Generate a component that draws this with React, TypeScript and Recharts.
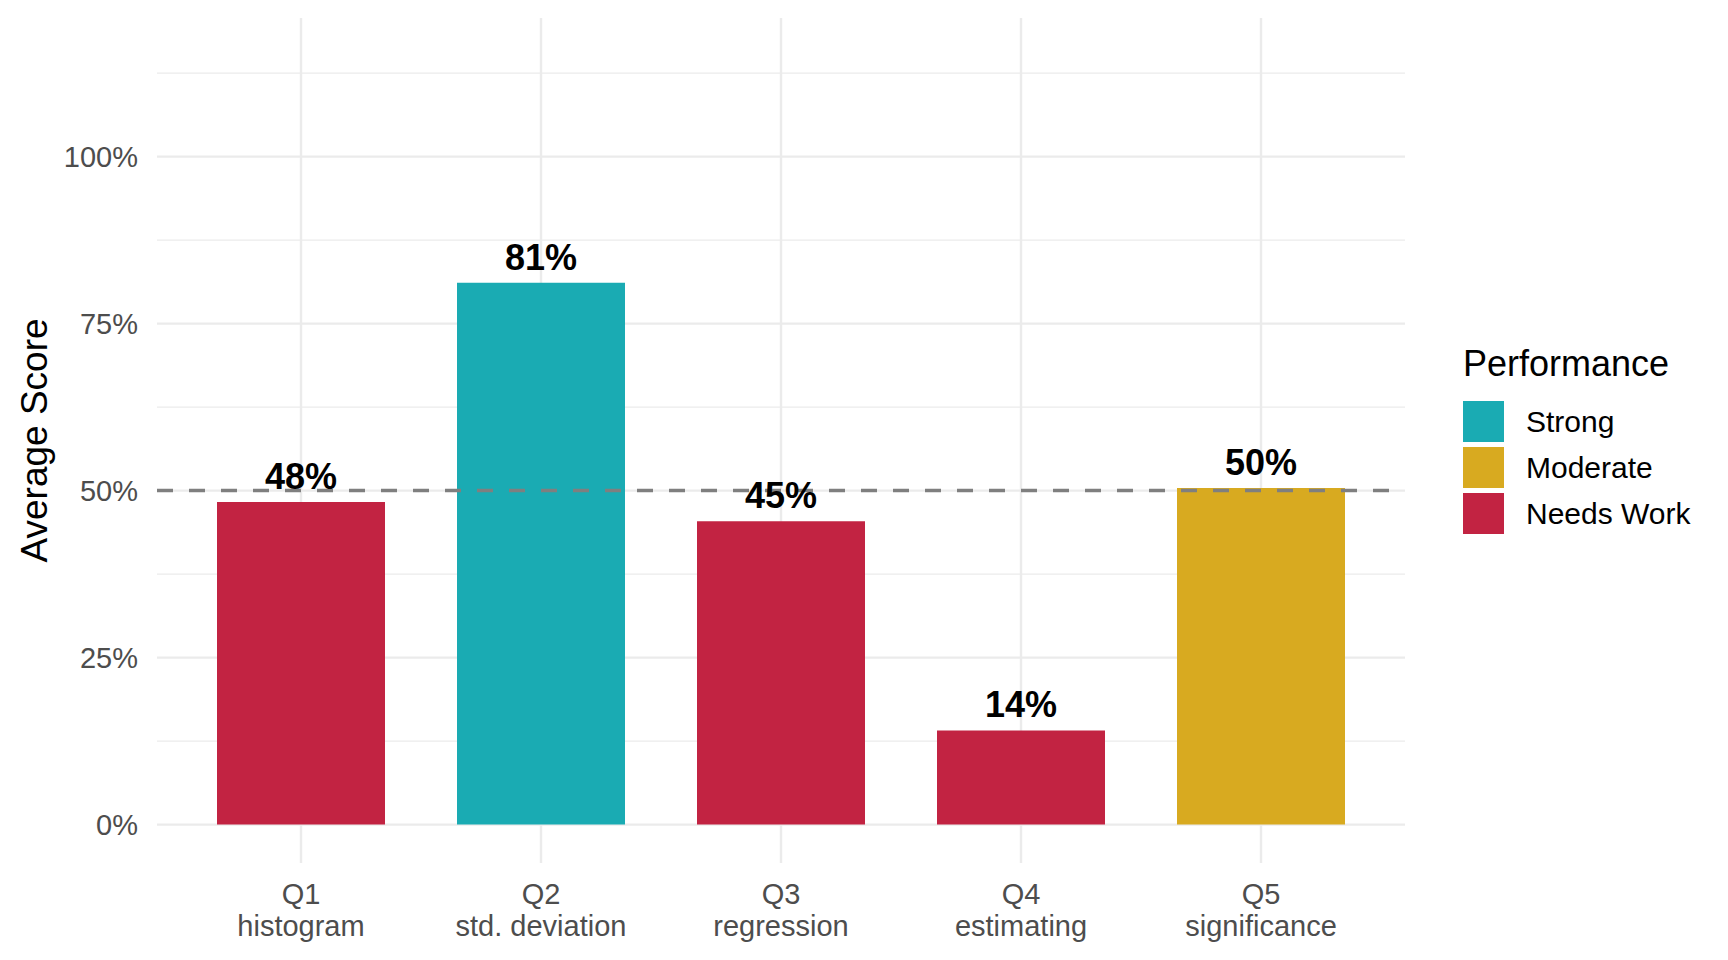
import { BarChart, Bar, XAxis, YAxis, CartesianGrid, ReferenceLine, LabelList, Cell, Legend } from 'recharts'

const questions = ['Q1', 'Q2', 'Q3', 'Q4', 'Q5']
const topics = ['histogram', 'std. deviation', 'regression', 'estimating', 'significance']
const scores = [48.3, 81.1, 45.4, 14.1, 50.4]
const levels = ['Needs Work', 'Strong', 'Needs Work', 'Needs Work', 'Moderate']

const levelNames = ['Strong', 'Moderate', 'Needs Work']
const levelColors = ['#1AABB3', '#D8AA20', '#C22342']

const yTicks = [0, 25, 50, 75, 100]
const yMinor = [12.5, 37.5, 62.5, 87.5, 112.5]
const target = 50

const FONT = '"Liberation Sans", Arial, sans-serif'

const chartData = questions.map((q, i) => ({
  q,
  topic: topics[i],
  score: scores[i],
  level: levels[i],
}))

const colorOf = (level: string) => levelColors[levelNames.indexOf(level)]

function XTick({ x, y, payload }: any) {
  const topic = topics[questions.indexOf(payload.value)]
  return (
    <g fontFamily={FONT} fontSize={29} fill="#4D4D4D">
      <text x={x} y={y + 41} textAnchor="middle">{payload.value}</text>
      <text x={x} y={y + 73} textAnchor="middle">{topic}</text>
    </g>
  )
}

function YTick({ x, y, payload }: any) {
  return (
    <text x={x} y={y + 10} textAnchor="end" fontFamily={FONT} fontSize={29} fill="#4D4D4D">
      {`${payload.value}%`}
    </text>
  )
}

function YTitle({ viewBox }: any) {
  const cy = viewBox.y + viewBox.height / 2
  return (
    <text
      x={47}
      y={cy}
      transform={`rotate(-90, 47, ${cy})`}
      textAnchor="middle"
      fontFamily={FONT}
      fontSize={37}
      fill="#000"
    >
      Average Score
    </text>
  )
}

function LegendBox() {
  return (
    <div style={{ fontFamily: FONT, color: '#000' }}>
      <div style={{ fontSize: 36, lineHeight: '36px', height: 36 }}>Performance</div>
      <div style={{ marginTop: 19 }}>
        {levelNames.map((name, i) => (
          <div key={name} style={{ display: 'flex', alignItems: 'center', height: 41, marginBottom: 5 }}>
            <div style={{ width: 41, height: 41, background: levelColors[i] }} />
            <span style={{ marginLeft: 22, fontSize: 30, lineHeight: '41px' }}>{name}</span>
          </div>
        ))}
      </div>
    </div>
  )
}

export default function App() {
  return (
    <div style={{ position: 'absolute', left: 0, top: 0, background: '#fff' }}>
      <BarChart
        width={1728}
        height={960}
        data={chartData}
        margin={{ top: 18, right: 323, bottom: 0, left: 57 }}
      >
        <CartesianGrid
          stroke="#EBEBEB"
          strokeWidth={1.2}
          vertical={false}
          horizontalValues={yMinor}
          syncWithTicks
        />
        <CartesianGrid stroke="#EBEBEB" strokeWidth={2.4} syncWithTicks />
        <XAxis
          dataKey="q"
          type="category"
          height={97}
          padding={{ left: 24, right: 24 }}
          axisLine={false}
          tickLine={false}
          tickSize={0}
          tickMargin={0}
          interval={0}
          tick={<XTick />}
        />
        <YAxis
          type="number"
          width={100}
          domain={[-5.75, 120.75]}
          ticks={yTicks}
          allowDataOverflow
          axisLine={false}
          tickLine={false}
          tickSize={0}
          tickMargin={19}
          tick={<YTick />}
          label={<YTitle />}
        />
        <Bar dataKey="score" barSize={168} isAnimationActive={false}>
          {chartData.map((d) => (
            <Cell key={d.q} fill={colorOf(d.level)} />
          ))}
          <LabelList
            dataKey="score"
            position="top"
            offset={13}
            formatter={(v: any) => `${Math.round(v)}%`}
            style={{ fontFamily: FONT, fontSize: 36, fontWeight: 'bold', fill: '#000' }}
          />
        </Bar>
        <ReferenceLine y={target} stroke="#7F7F7F" strokeWidth={3.5} strokeDasharray="16 16" />
        <Legend
          layout="horizontal"
          verticalAlign="middle"
          align="center"
          content={<LegendBox />}
          wrapperStyle={{ left: 1463, top: 346, width: 260 }}
        />
      </BarChart>
    </div>
  )
}
